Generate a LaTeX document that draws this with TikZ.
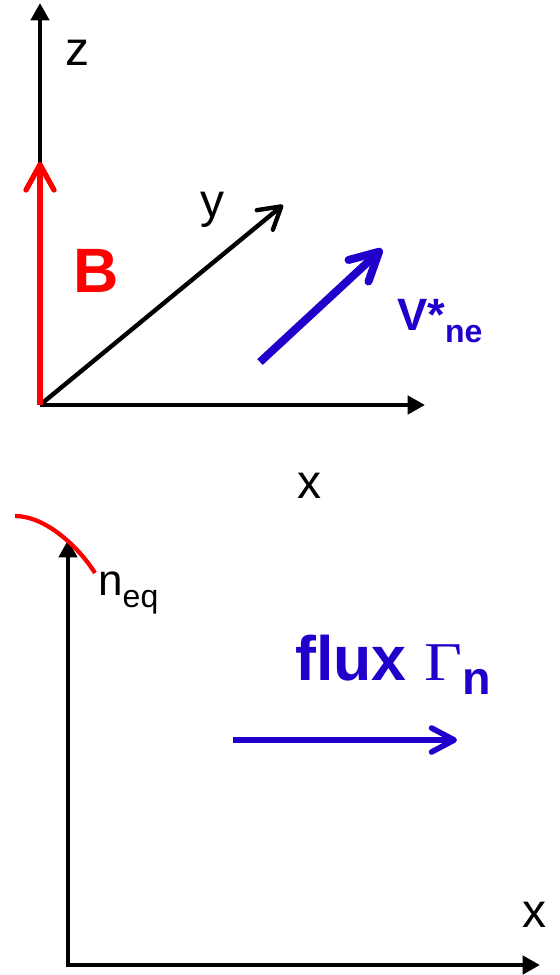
\documentclass[tikz,border=0pt]{standalone}
\usepackage{fontspec}
\setmainfont{Liberation Sans}
\newfontfamily\gammafont{Liberation Serif}
\usetikzlibrary{arrows.meta}
\definecolor{myblue}{RGB}{34,0,204}
\definecolor{myred}{RGB}{255,0,0}
\begin{document}
\begin{tikzpicture}[x=0.75pt,y=-0.75pt,
  axisline/.style={line width=3.4pt,black},
  filltip/.style={-{Triangle[length=13pt,width=13.5pt]}},
  lbl/.style={inner sep=0pt,anchor=base,font=\fontsize{36}{40}\selectfont}
]
\useasboundingbox (0,0) rectangle (560,975);
% ---------- top diagram ----------
\coordinate (O) at (40,405);
\coordinate (ztip) at (40,3);
\coordinate (xtip) at (425,405);
\coordinate (ytip) at (283,205);
\coordinate (btip) at (40,162);
\coordinate (vstart) at (260,362);
\coordinate (vtip) at (382,249);

\draw[axisline,filltip] (O) -- (ztip);
\draw[axisline,filltip] (O) -- (xtip);
\draw[line width=3.3pt,-{Straight Barb[length=16pt,width=19pt,round]}] (O) -- (ytip);
\draw[myred,line width=4pt,-{Straight Barb[length=19pt,width=21pt,round]}] (O) -- (btip);
\draw[myblue,line width=6pt,-{Straight Barb[length=21pt,width=22pt,round]}] (vstart) -- (vtip);

\node[lbl] (zl) at (77,65) {z};
\node[lbl] (yl) at (212,217) {y};
\node[lbl] (xl) at (309,498) {x};
\node[inner sep=0pt,anchor=base,text=myred,font=\fontsize{47}{47}\selectfont\bfseries] (bl) at (96,292) {B};
\node[inner sep=0pt,anchor=base west,text=myblue,font=\fontsize{34}{34}\selectfont\bfseries] (vl) at (397,330)
  {V*\raisebox{-9pt}{\fontsize{24}{24}\selectfont ne}};

% ---------- bottom diagram ----------
\coordinate (O2) at (68,965);
\coordinate (ntip) at (68,540);
\coordinate (x2tip) at (540,965);
\coordinate (cstart) at (15,516);
\coordinate (cend) at (95,573);
\coordinate (fstart) at (233,740);
\coordinate (ftip) at (457,740);

\draw[axisline,{Triangle[length=13pt,width=13.5pt]}-{Triangle[length=13pt,width=13.5pt]}] (ntip) -- (O2) -- (x2tip);
\draw[myred,line width=3.2pt] (cstart) .. controls (45,516) and (78,546) .. (cend);
\draw[myblue,line width=4.2pt,-{Straight Barb[length=17pt,width=18pt,round]}] (fstart) -- (ftip);

\node[inner sep=0pt,anchor=base west,font=\fontsize{33}{33}\selectfont] (nl) at (98,595)
  {n\raisebox{-9pt}{\fontsize{24}{24}\selectfont eq}};
\node[inner sep=0pt,anchor=base west,text=myblue,font=\fontsize{47}{47}\selectfont\bfseries] (fl) at (295,680)
  {flux {\gammafont\mdseries\fontsize{41}{41}\selectfont\scalebox{1.2}[1]{Γ}}\raisebox{-10.5pt}{\fontsize{35}{35}\selectfont n}};
\node[lbl] (x2l) at (534,927) {x};
\end{tikzpicture}
\end{document}
